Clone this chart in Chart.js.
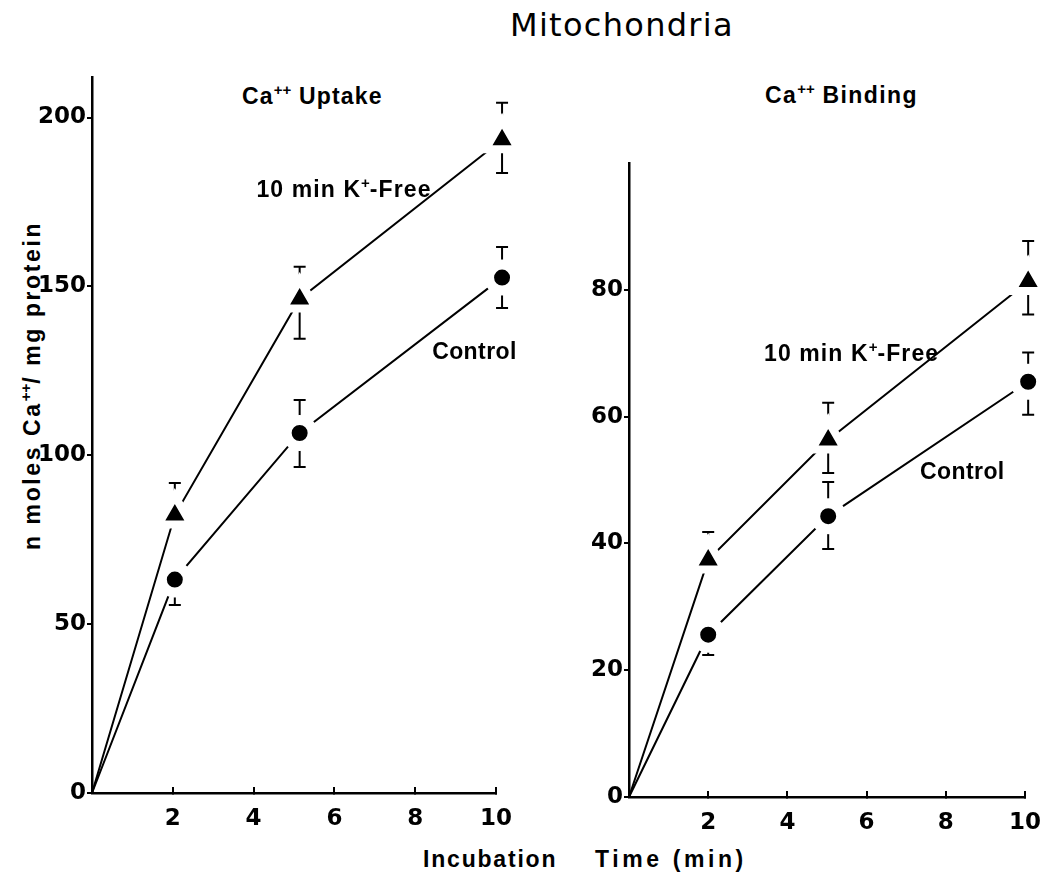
<!DOCTYPE html>
<html>
<head>
<meta charset="utf-8">
<title>Mitochondria</title>
<script src="https://cdn.jsdelivr.net/npm/chart.js@4.4.1/dist/chart.umd.min.js"></script>
<style>
  html, body { margin: 0; padding: 0; background: #fff; }
  body { width: 1059px; height: 877px; position: relative; overflow: hidden; font-family: 'Liberation Sans', sans-serif; color: #000; }
  .panel { position: absolute; top: 0; height: 877px; }
  .txt { position: absolute; white-space: pre; line-height: 1; font-weight: bold; font-size: 23px; }
  .sup { font-size: 15px; position: relative; top: -9px; letter-spacing: 0; }
  #title { left: 510px; top: 9px; font-family: 'DejaVu Sans', sans-serif; font-size: 32px; font-weight: normal; letter-spacing: 1.3px; }
  #ylab { left: -168px; top: 373.5px; width: 400px; height: 23px; text-align: center; letter-spacing: 2.6px; transform: rotate(-90deg); }
</style>
</head>
<body>
<div class="txt" id="title">Mitochondria</div>
<div class="txt" style="left:242px; top:84.5px; letter-spacing:1.2px;">Ca<span class="sup">++</span> Uptake</div>
<div class="txt" style="left:765px; top:83.5px; letter-spacing:1.4px;">Ca<span class="sup">++</span> Binding</div>
<div class="txt" id="ylab">n moles Ca<span class="sup">++</span>/ mg protein</div>
<div class="txt" style="left:423px; top:847.5px; letter-spacing:1.8px;">Incubation</div>
<div class="txt" style="left:595px; top:847.5px; letter-spacing:3.6px;">Time (min)</div>
<div class="panel" style="left:0; width:530px;"><canvas id="uptake"></canvas></div>
<div class="panel" style="left:530px; width:529px;"><canvas id="binding"></canvas></div>

<script>
// Ca++ uptake (nmol / mg protein) vs incubation time (min)
const uptakeTimes = [0, 2.05, 5.14, 10.15];
const uptakeKFree = [0, 82.3, 146.3, 193.4];
const uptakeKFreeErrUp = [0, 9.5, 9.5, 11];
const uptakeKFreeErrDown = [0, 0, 11.8, 9.8];
const uptakeControl = [0, 63.2, 106.6, 152.6];
const uptakeControlErrUp = [0, 0, 9.8, 9.1];
const uptakeControlErrDown = [0, 7.5, 10.1, 9];

// Ca++ binding
const bindingTimes = [0, 2, 5.03, 10.08];
const bindingKFree = [0, 37.4, 56.3, 81.3];
const bindingKFreeErrUp = [0, 4.4, 5.9, 6.4];
const bindingKFreeErrDown = [0, 0, 5.2, 5.2];
const bindingControl = [0, 25.6, 44.3, 65.5];
const bindingControlErrUp = [0, 0, 5.4, 4.6];
const bindingControlErrDown = [0, 3.2, 5.2, 5.2];

const timeTicks = [2, 4, 6, 8, 10];
const uptakeTicks = [0, 50, 100, 150, 200];
const bindingTicks = [0, 20, 40, 60, 80];

const TICK_FONT = 'DejaVu Sans';
const LABEL_FONT = 'Liberation Sans';

// vertical SE bars with caps, drawn under the points so the white point rims cut them
const errorBars = {
  id: 'errorBars',
  beforeDatasetsDraw(chart) {
    const ctx = chart.ctx, xs = chart.scales.x, ys = chart.scales.y;
    ctx.save();
    ctx.strokeStyle = '#000';
    ctx.lineWidth = 2;
    chart.data.datasets.forEach(ds => {
      ds.data.forEach((p, i) => {
        const px = xs.getPixelForValue(p.x);
        const py0 = ys.getPixelForValue(p.y);
        [[ds.errUp[i], 1], [ds.errDown[i], -1]].forEach(([e, dir]) => {
          if (!e) return;
          const py1 = ys.getPixelForValue(p.y + dir * e);
          ctx.beginPath();
          ctx.moveTo(px, py0);
          ctx.lineTo(px, py1);
          ctx.moveTo(px - 6, py1);
          ctx.lineTo(px + 6, py1);
          ctx.stroke();
        });
      });
    });
    ctx.restore();
  }
};

// series labels placed in data units; parts flagged true are superscripts
function notesPlugin(items) {
  return {
    id: 'notes',
    afterDatasetsDraw(chart) {
      const ctx = chart.ctx;
      ctx.save();
      ctx.fillStyle = '#000';
      ctx.textAlign = 'left';
      ctx.textBaseline = 'alphabetic';
      items.forEach(n => {
        let x = chart.scales.x.getPixelForValue(n.x);
        const y = chart.scales.y.getPixelForValue(n.y);
        n.parts.forEach(([t, sup]) => {
          ctx.font = 'bold ' + (sup ? 15 : 23) + 'px "' + LABEL_FONT + '"';
          ctx.letterSpacing = sup ? '0px' : n.spacing;
          ctx.fillText(t, x, sup ? y - 9 : y);
          x += ctx.measureText(t).width;
        });
      });
      ctx.restore();
    }
  };
}

function series(times, values, up, down, style, r, rim) {
  return {
    data: times.map((t, i) => ({ x: t, y: values[i] })),
    errUp: up,
    errDown: down,
    borderColor: '#000',
    borderWidth: 2,
    tension: 0,
    clip: false,
    pointStyle: style,
    pointRadius: values.map((v, i) => i === 0 ? 0 : r),
    pointBackgroundColor: '#000',
    pointBorderColor: '#fff',
    pointBorderWidth: values.map((v, i) => i === 0 ? 0 : rim)
  };
}

function makePanel(id, datasets, yTicks, yMax, axisLeft, pad, xHeight, notes) {
  const tickFont = { family: TICK_FONT, size: 23, weight: 'bold' };
  return new Chart(document.getElementById(id), {
    type: 'line',
    data: { datasets: datasets },
    options: {
      responsive: true,
      maintainAspectRatio: false,
      animation: false,
      events: [],
      layout: { padding: pad },
      plugins: { legend: { display: false }, tooltip: { enabled: false } },
      scales: {
        x: {
          type: 'linear', min: 0, max: 10,
          afterBuildTicks: s => { s.ticks = timeTicks.map(v => ({ value: v })); },
          afterFit: s => { s.height = xHeight; },
          border: { color: '#000', width: 2.5 },
          grid: { drawOnChartArea: false, color: '#000', lineWidth: 2, tickLength: -6 },
          ticks: { color: '#000', font: tickFont, padding: 18, maxRotation: 0, autoSkip: false }
        },
        y: {
          type: 'linear', min: 0, max: yMax,
          afterBuildTicks: s => { s.ticks = yTicks.map(v => ({ value: v })); },
          afterFit: s => { s.width = axisLeft; },
          border: { color: '#000', width: 2.5 },
          grid: { drawOnChartArea: false, color: '#000', lineWidth: 2, tickLength: 5 },
          ticks: { color: '#000', font: tickFont, padding: 1 }
        }
      }
    },
    plugins: [errorBars, notesPlugin(notes)]
  });
}

const kFreeText = [['10 min K', false], ['+', true], ['-Free', false]];

makePanel('uptake', [
  series(uptakeTimes, uptakeKFree, uptakeKFreeErrUp, uptakeKFreeErrDown, 'triangle', 19, 8),
  series(uptakeTimes, uptakeControl, uptakeControlErrUp, uptakeControlErrDown, 'circle', 13, 10)
], uptakeTicks, 212, 92, { left: 0, top: 77, right: 33, bottom: 0 }, 84, [
  { parts: kFreeText, x: 4.07, y: 176.4, spacing: '1.1px' },
  { parts: [['Control', false]], x: 8.42, y: 128.5, spacing: '0.4px' }
]);

makePanel('binding', [
  series(bindingTimes, bindingKFree, bindingKFreeErrUp, bindingKFreeErrDown, 'triangle', 19, 8),
  series(bindingTimes, bindingControl, bindingControlErrUp, bindingControlErrDown, 'circle', 13, 10)
], bindingTicks, 100, 99, { left: 0, top: 163, right: 18, bottom: 0 }, 80, [
  { parts: kFreeText, x: 3.41, y: 68.8, spacing: '1.1px' },
  { parts: [['Control', false]], x: 7.35, y: 50.2, spacing: '0.4px' }
]);
</script>
</body>
</html>
